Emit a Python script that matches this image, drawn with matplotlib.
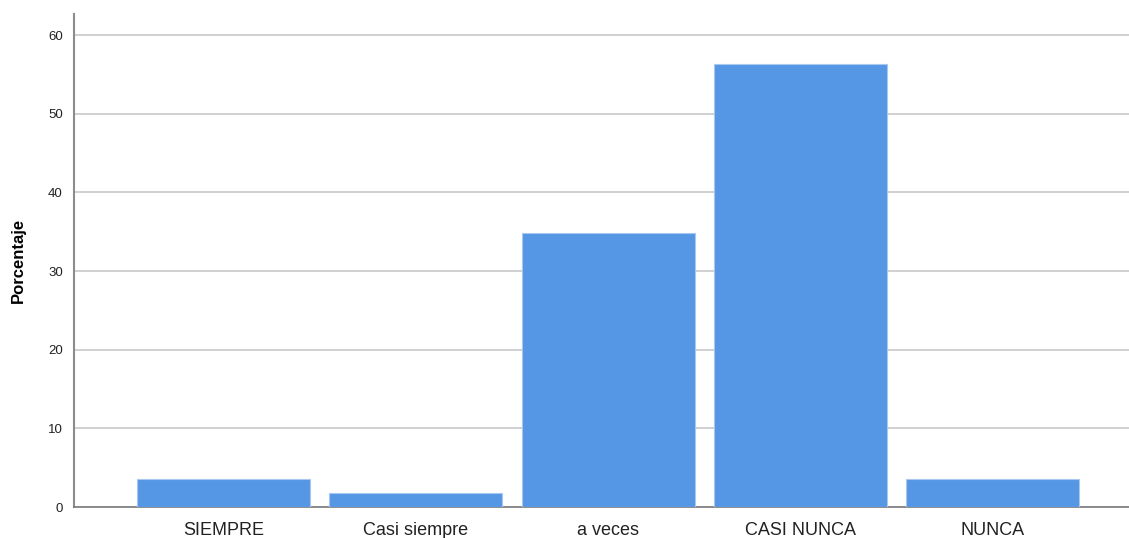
import matplotlib
matplotlib.use("Agg")
import matplotlib.pyplot as plt

categories = ["SIEMPRE", "Casi siempre", "a veces", "CASI NUNCA", "NUNCA"]
percentages = [3.6, 1.8, 34.8, 56.3, 3.6]
y_ticks = [0, 10, 20, 30, 40, 50, 60]

plt.rcParams["font.family"] = ["Liberation Sans", "DejaVu Sans"]

fig = plt.figure(figsize=(11.29, 5.38), dpi=100)
ax = fig.add_axes([74 / 1129, 31 / 538, 1055 / 1129, 493 / 538])

x = list(range(len(categories)))
ax.bar(x, percentages, width=0.9, color="#5596e5", edgecolor="#a9c8f0",
       linewidth=0.8, zorder=3)

ax.set_xlim(-0.779, 4.711)
ax.set_ylim(0, 62.67)
ax.set_yticks(y_ticks)
ax.set_yticklabels([str(t) for t in y_ticks], fontsize=9.5, color="#222222")
ax.set_xticks(x)
ax.set_xticklabels(categories, fontsize=13, color="#222222")
ax.tick_params(axis="y", length=0, pad=8)
ax.tick_params(axis="x", length=0, pad=11)

ax.yaxis.grid(True, color="#c8c8c8", linewidth=1.2, zorder=0)
ax.set_axisbelow(True)

for side in ("top", "right"):
    ax.spines[side].set_visible(False)
ax.spines["left"].set_color("#8c8c8c")
ax.spines["left"].set_linewidth(1.5)
ax.spines["bottom"].set_color("#7a7a7a")
ax.spines["bottom"].set_linewidth(1.2)

ax.set_ylabel("Porcentaje", fontsize=12, fontweight="bold", labelpad=16)

fig.savefig("out.png", dpi=100)
